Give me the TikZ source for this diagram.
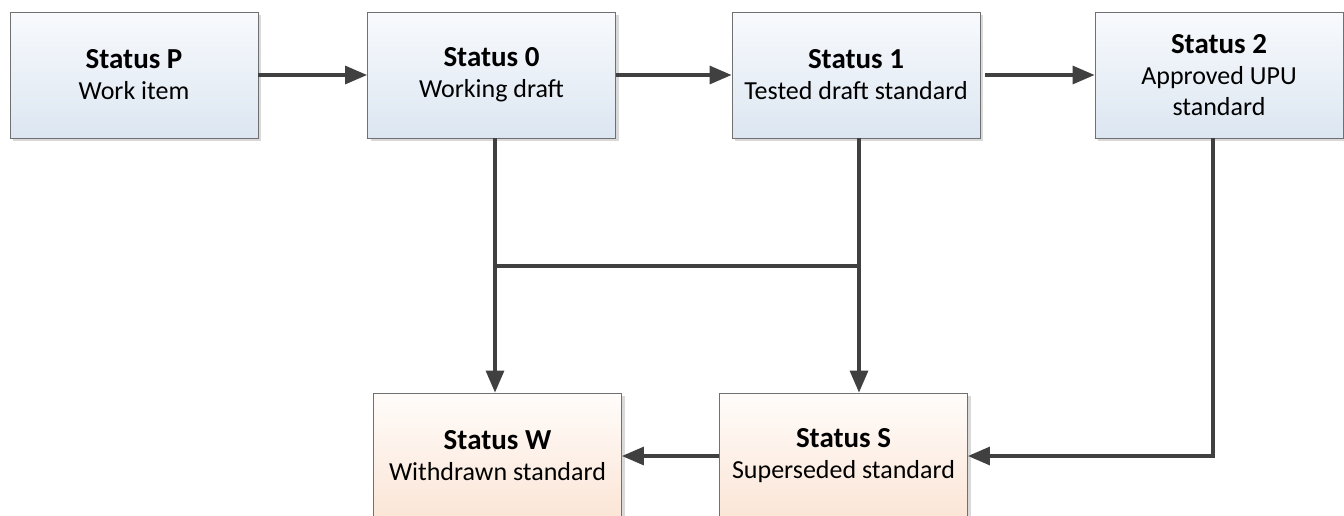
\documentclass[tikz,border=0pt]{standalone}
\usepackage{fontspec}
\setmainfont{Carlito}
\usetikzlibrary{arrows.meta,shadows}
\definecolor{boxline}{HTML}{707070}
\definecolor{arrowc}{HTML}{404040}
\definecolor{bluetop}{HTML}{F8FAFD}
\definecolor{bluebot}{HTML}{DCE6F1}
\definecolor{peachtop}{HTML}{FFFCFA}
\definecolor{peachbot}{HTML}{FBE5D6}
\newcommand{\hd}[1]{{\fontsize{29}{32}\selectfont\bfseries #1}}
\tikzset{
  statebox/.style={draw=boxline, line width=0.9pt, minimum width=248pt, minimum height=126pt,
    align=center, inner sep=0pt, font=\fontsize{26}{31}\selectfont,
    drop shadow={shadow xshift=3pt, shadow yshift=-3pt, fill=black!15, opacity=1}},
  bluebox/.style={statebox, top color=bluetop, bottom color=bluebot},
  peachbox/.style={statebox, top color=peachtop, bottom color=peachbot},
  conn/.style={draw=arrowc, line width=3.2pt},
  arr/.style={conn, -{Triangle[length=22pt,width=18pt]}},
}
\begin{document}
\begin{tikzpicture}[x=1pt,y=-1pt]
\clip (0,0) rectangle (1344,515);
\fill[white] (0,0) rectangle (1344,515);
\node[bluebox] (sp) at (134,75) {\hd{Status P}\\Work item};
\node[bluebox] (s0) at (491.5,75) {\hd{Status 0}\\Working draft};
\node[bluebox] (s1) at (856,75) {\hd{Status 1}\\Tested draft standard};
\node[bluebox] (s2) at (1219,75) {\hd{Status 2}\\Approved UPU\\standard};
\node[peachbox] (sw) at (497.5,456) {\hd{Status W}\\Withdrawn standard};
\node[peachbox] (ss) at (843.5,456) {\hd{Status S}\\Superseded standard};
\coordinate (j0) at (495,266);
\coordinate (j1) at (859,266);
\coordinate (c2) at (1213,456);
\draw[arr] (sp.east) -- (s0.west);
\draw[arr] (s0.east) -- (s1.west);
\draw[arr] ([xshift=5pt]s1.east) -- (s2.west);
\draw[arr] (j0 |- s0.south) -- (j0 |- sw.north);
\draw[arr] (j1 |- s1.south) -- (j1 |- ss.north);
\draw[conn] (j0) -- (j1);
\draw[arr] (c2 |- s2.south) -- (c2) -- (ss.east);
\draw[arr] (ss.west) -- (sw.east);
\end{tikzpicture}
\end{document}
